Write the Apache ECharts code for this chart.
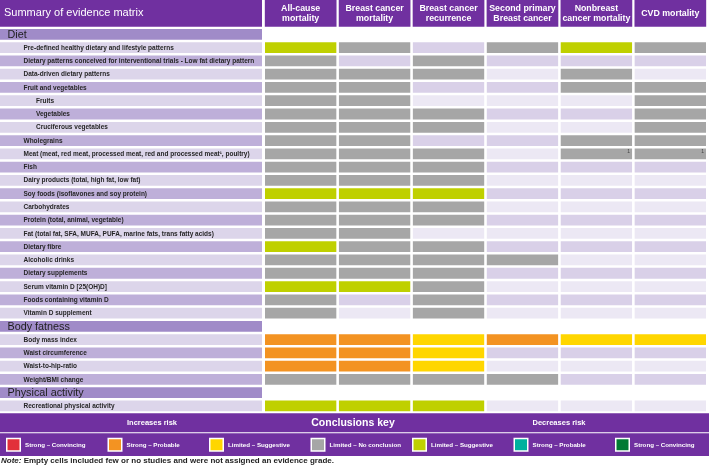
<!DOCTYPE html>
<html><head><meta charset="utf-8">
<script src="https://cdn.jsdelivr.net/npm/echarts@6/dist/echarts.min.js"></script>
<style>html,body{margin:0;padding:0;background:#fff}#c{width:709px;height:466px}</style>
</head><body><div id="c"></div>
<script>
// ---- data ----
const titleText = 'Summary of evidence matrix';
const columns = ['All-cause\nmortality', 'Breast cancer\nmortality', 'Breast cancer\nrecurrence', 'Second primary\nBreast cancer', 'Nonbreast\ncancer mortality', 'CVD mortality'];
const rowLabels = [
  'Diet',
  'Pre-defined healthy dietary and lifestyle patterns',
  'Dietary patterns conceived for interventional trials - Low fat dietary pattern',
  'Data-driven dietary patterns',
  'Fruit and vegetables',
  'Fruits',
  'Vegetables',
  'Cruciferous vegetables',
  'Wholegrains',
  'Meat (meat, red meat, processed meat, red and processed meat\u00b9, poultry)',
  'Fish',
  'Dairy products (total, high fat, low fat)',
  'Soy foods (isoflavones and soy protein)',
  'Carbohydrates',
  'Protein (total, animal, vegetable)',
  'Fat (total fat, SFA, MUFA, PUFA, marine fats, trans fatty acids)',
  'Dietary fibre',
  'Alcoholic drinks',
  'Dietary supplements',
  'Serum vitamin D [25(OH)D]',
  'Foods containing vitamin D',
  'Vitamin D supplement',
  'Body fatness',
  'Body mass index',
  'Waist circumference',
  'Waist-to-hip-ratio',
  'Weight/BMI change',
  'Physical activity',
  'Recreational physical activity'
];
// section = group header, item = normal row, sub = indented sub-row
const rowKinds = ['section','item','item','item','item','sub','sub','sub','item','item','item','item','item','item','item','item','item','item','item','item','item','item',
  'section','item','item','item','item','section','item'];
// grade codes per row (one letter per column):
// G = Limited - No conclusion, L = Limited - Suggestive (decreases risk),
// Y = Limited - Suggestive (increases risk), O = Strong - Probable (increases risk),
// a / b = empty cell (light / medium shade)
const grades = [
  null,
  'LGbGLG','GbGbbb','GGGaGa','GGbbGG','GGaaaG','GGGbbG','GGGaaG','GGbbGG','GGGaGG','GGGbbb',
  'GGGaaa','LLLbbb','GGGaaa','GGGbbb','GGaaaa','LGGbbb','GGGGaa','GGGbbb','LLGaaa','GbGbbb','GaGaaa',
  null,
  'OOYOYY','OOYbbb','OOYaaa','GGGGbb',
  null,
  'LLLaaa'
];
const cellNotes = [{row: 9, col: 4, text: '1'}, {row: 9, col: 5, text: '1'}];
const keyIncrease = ['Strong \u2013 Convincing', 'Strong \u2013 Probable', 'Limited \u2013 Suggestive'];
const keyNeutral = ['Limited \u2013 No conclusion'];
const keyDecrease = ['Limited \u2013 Suggestive', 'Strong \u2013 Probable', 'Strong \u2013 Convincing'];
const noteText = 'Empty cells included few or no studies and were not assigned an evidence grade.';

// ---- styles ----
const FONT = 'Liberation Sans';
const PURPLE = '#7030A0';
const gradeColors = {G: '#A6A6A6', L: '#BFD000', Y: '#FFD600', O: '#F39322', a: '#ECE8F4', b: '#D9D0E8'};
const keyColors = ['#E2303A', '#F39322', '#FFD600', '#A6A6A6', '#BFD000', '#00B09E', '#007A33'];
const labelColors = {section: '#A08BC8', light: '#DCD5EA', dark: '#BEAFD9'};
const GX = 2.6, GY = 2.5;

// label shading alternates inside each section
const labelShade = [];
let k = 0;
rowKinds.forEach(function (kind) {
  if (kind === 'section') { labelShade.push('section'); k = 0; }
  else { labelShade.push(k % 2 === 0 ? 'light' : 'dark'); k++; }
});

const labelData = rowLabels.map(function (l, r) { return [0, r]; });
const cellData = [], cellCodes = [], cellNoteText = [];
grades.forEach(function (g, r) {
  if (!g) return;
  for (let c = 0; c < g.length; c++) {
    cellData.push([c, r]);
    cellCodes.push(g[c]);
    const n = cellNotes.find(function (x) { return x.row === r && x.col === c; });
    cellNoteText.push(n ? n.text : '');
  }
});

function renderLabel(params, api) {
  const r = api.value(1);
  const p = api.coord([0, r]);
  const s = api.size([1, 1]);
  const kind = rowKinds[r];
  const x0 = p[0] - s[0] / 2, y0 = p[1] - s[1] / 2 + GY / 2;
  const h = s[1] - GY;
  const indent = kind === 'section' ? 7.5 : (kind === 'sub' ? 36 : 23.5);
  return {
    type: 'group',
    children: [
      {type: 'rect', shape: {x: x0, y: y0, width: s[0], height: h}, style: {fill: labelColors[labelShade[r]]}},
      {type: 'text', x: x0 + indent, y: p[1] + 0.3, style: {
        text: rowLabels[r], fill: kind === 'section' ? '#1E1E1E' : '#262626',
        fontFamily: FONT, fontSize: kind === 'section' ? 10.8 : 6.5,
        fontWeight: kind === 'section' ? 'normal' : 'bold',
        align: 'left', verticalAlign: 'middle'}}
    ]
  };
}

function renderCell(params, api) {
  const c = api.value(0), r = api.value(1);
  const p = api.coord([c, r]);
  const s = api.size([1, 1]);
  const x0 = p[0] - s[0] / 2 + GX / 2, y0 = p[1] - s[1] / 2 + GY / 2;
  const w = s[0] - GX, h = s[1] - GY;
  const children = [{type: 'rect', shape: {x: x0, y: y0, width: w, height: h}, style: {fill: gradeColors[cellCodes[params.dataIndex]]}}];
  const note = cellNoteText[params.dataIndex];
  if (note) {
    children.push({type: 'text', x: x0 + w - 2, y: y0 + 3.5, style: {text: note, fill: '#444', fontFamily: FONT, fontSize: 5, align: 'right', verticalAlign: 'middle'}});
  }
  return {type: 'group', children: children};
}

// ---- legend / key graphics ----
const graphics = [
  {type: 'rect', left: 0, top: 413.3, shape: {width: 709, height: 42.7}, style: {fill: PURPLE}, silent: true},
  {type: 'rect', left: 0, top: 432.2, shape: {width: 709, height: 1}, style: {fill: '#fff'}, silent: true},
  {type: 'text', x: 152, y: 423.2, style: {text: 'Increases risk', fill: '#fff', fontFamily: FONT, fontSize: 7.5, fontWeight: 'bold', align: 'center', verticalAlign: 'middle'}},
  {type: 'text', x: 353, y: 423, style: {text: 'Conclusions key', fill: '#fff', fontFamily: FONT, fontSize: 10.5, fontWeight: 'bold', align: 'center', verticalAlign: 'middle'}},
  {type: 'text', x: 559, y: 423.2, style: {text: 'Decreases risk', fill: '#fff', fontFamily: FONT, fontSize: 7.5, fontWeight: 'bold', align: 'center', verticalAlign: 'middle'}},
  {type: 'text', x: 1, y: 461, style: {
    text: '{n|Note:} ' + noteText, fill: '#1E1E1E', fontFamily: FONT, fontSize: 8, fontWeight: 'bold',
    align: 'left', verticalAlign: 'middle',
    rich: {n: {fontFamily: FONT, fontSize: 8, fontWeight: 'bold', fontStyle: 'italic', fill: '#1E1E1E'}}}}
];
const keyLabels = keyIncrease.concat(keyNeutral, keyDecrease);
keyLabels.forEach(function (lab, i) {
  const x = 6 + i * 101.5;
  graphics.push({type: 'rect', shape: {x: x + 0.75, y: 438.5, width: 13.5, height: 12.5}, style: {fill: keyColors[i], stroke: '#fff', lineWidth: 1.5}});
  graphics.push({type: 'text', x: x + 19, y: 444.8, style: {text: lab, fill: '#fff', fontFamily: FONT, fontSize: 6.2, fontWeight: 'bold', align: 'left', verticalAlign: 'middle'}});
});

const TOP = 27.75, H = 29 * 13.27;
const chart = echarts.init(document.getElementById('c'), null, {renderer: 'canvas'});
chart.setOption({
  animation: false,
  backgroundColor: '#fff',
  title: {
    text: titleText, left: 0, top: 0, backgroundColor: PURPLE, padding: [7.5, 4, 7.5, 4],
    textStyle: {color: '#fff', fontFamily: FONT, fontSize: 11, fontWeight: 'normal', lineHeight: 11.7, width: 254}
  },
  grid: [
    {left: 0, top: TOP, width: 262, height: H},
    {left: 263.7, top: TOP, width: 445.8, height: H}
  ],
  xAxis: [
    {gridIndex: 0, type: 'category', data: ['label'], show: false},
    {gridIndex: 1, type: 'category', data: columns, position: 'top',
      axisLine: {show: false}, axisTick: {show: false}, splitLine: {show: false},
      axisLabel: {
        interval: 0, margin: 1, color: '#fff', fontFamily: FONT, fontSize: 8.8, fontWeight: 'bold',
        lineHeight: 10, backgroundColor: PURPLE, width: 71.7, padding: [3.35, 0, 3.35, 0],
        align: 'center', verticalAlign: 'bottom',
        formatter: function (v) { return v.indexOf('\n') >= 0 ? v : '{one|' + v + '}'; },
        rich: {one: {lineHeight: 20, color: '#fff', fontFamily: FONT, fontSize: 8.8, fontWeight: 'bold'}}
      }}
  ],
  yAxis: [
    {gridIndex: 0, type: 'category', data: rowLabels, inverse: true, show: false},
    {gridIndex: 1, type: 'category', data: rowLabels, inverse: true, show: false}
  ],
  series: [
    {type: 'custom', xAxisIndex: 0, yAxisIndex: 0, data: labelData, renderItem: renderLabel, silent: true},
    {type: 'custom', xAxisIndex: 1, yAxisIndex: 1, data: cellData, renderItem: renderCell, silent: true}
  ],
  graphic: graphics
});
</script>
</body></html>
